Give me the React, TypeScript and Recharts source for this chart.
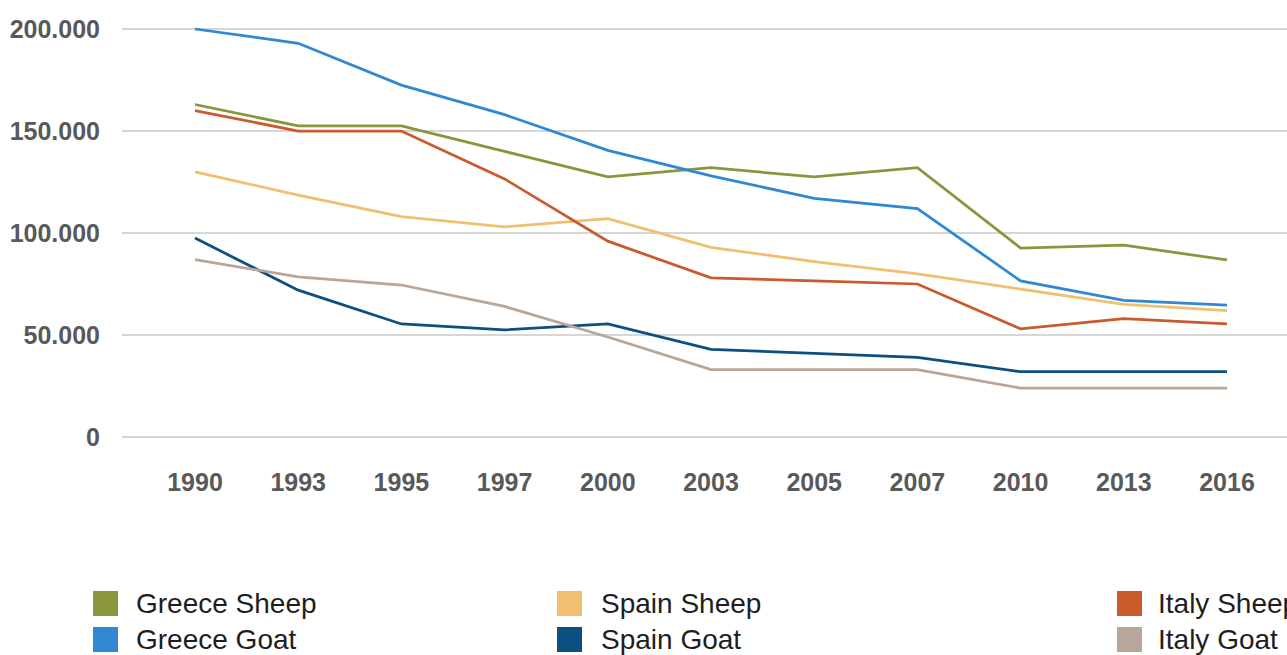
import React from 'react';
import { LineChart, Line, XAxis, YAxis, CartesianGrid, Legend } from 'recharts';

const years = ['1990', '1993', '1995', '1997', '2000', '2003', '2005', '2007', '2010', '2013', '2016'];

const greeceSheep = [163000, 152500, 152500, 140000, 127500, 132000, 127500, 132000, 92600, 94000, 86800];
const greeceGoat = [200000, 193000, 172500, 158000, 140500, 128000, 117000, 112000, 76500, 67000, 64700];
const spainSheep = [130000, 118600, 108000, 103000, 107000, 93000, 86000, 80000, 72500, 65000, 62000];
const spainGoat = [97500, 72000, 55400, 52500, 55400, 43000, 41000, 39000, 32000, 32000, 32000];
const italySheep = [160000, 150000, 150000, 126500, 96000, 78000, 76500, 75000, 53000, 58000, 55400];
const italyGoat = [87000, 78500, 74500, 64000, 49000, 33000, 33000, 33000, 24000, 24000, 24000];

const yTicks = [0, 50000, 100000, 150000, 200000];

const series = [
  { key: 'greeceSheep', name: 'Greece Sheep', color: '#8b963c', values: greeceSheep },
  { key: 'greeceGoat', name: 'Greece Goat', color: '#3088d2', values: greeceGoat },
  { key: 'spainSheep', name: 'Spain Sheep', color: '#f0bf6f', values: spainSheep },
  { key: 'spainGoat', name: 'Spain Goat', color: '#0d4f80', values: spainGoat },
  { key: 'italySheep', name: 'Italy Sheep', color: '#c95a2c', values: italySheep },
  { key: 'italyGoat', name: 'Italy Goat', color: '#b9a699', values: italyGoat },
];

const data = years.map((year, i) => {
  const row: Record<string, any> = { year };
  series.forEach((s) => {
    row[s.key] = s.values[i];
  });
  return row;
});

// legend order: sheep on top row, goats below
const legendOrder = ['greeceSheep', 'spainSheep', 'italySheep', 'greeceGoat', 'spainGoat', 'italyGoat'];
const legendCols = [93, 557, 1117];
const legendGaps = [18, 19, 16];

const fmt = (v: number) => (v === 0 ? '0' : (v / 1000).toFixed(3));

const tickStyle = { fill: '#595959', fontSize: 25, fontWeight: 700, fontFamily: '"Liberation Sans", Arial, sans-serif' };

const LegendBox = () => (
  <div style={{ position: 'relative', width: 1287, height: 70 }}>
    {legendOrder.map((key, i) => {
      const s = series.find((x) => x.key === key)!;
      const col = i % 3;
      const row = Math.floor(i / 3);
      return (
        <div
          key={key}
          style={{
            position: 'absolute',
            left: legendCols[col],
            top: 6 + row * 36,
            display: 'flex',
            alignItems: 'center',
            whiteSpace: 'nowrap',
          }}
        >
          <div style={{ width: 25, height: 25, background: s.color, marginRight: legendGaps[col] }} />
          <span style={{ fontSize: 28, color: '#1e1e1e', fontFamily: '"Liberation Sans", Arial, sans-serif', lineHeight: '25px' }}>
            {s.name}
          </span>
        </div>
      );
    })}
  </div>
);

const App = () => {
  return (
    <div style={{ position: 'absolute', top: 0, left: 0, width: 1287, height: 655, overflow: 'hidden', background: '#fff' }}>
      <LineChart width={1287} height={655} data={data} margin={{ top: 29, right: 0, bottom: 0, left: 0 }}>
        <CartesianGrid vertical={false} stroke="#c8c8c8" strokeWidth={1.5} />
        <XAxis
          dataKey="year"
          axisLine={false}
          tickLine={false}
          tick={tickStyle}
          tickMargin={30}
          height={148}
          padding={{ left: 73, right: 60 }}
          interval={0}
        />
        <YAxis
          domain={[0, 200000]}
          ticks={yTicks}
          tickFormatter={fmt}
          axisLine={false}
          tickLine={false}
          tick={tickStyle}
          tickMargin={16}
          width={122}
        />
        <Legend verticalAlign="bottom" wrapperStyle={{ left: 0, top: 585, width: 1287 }} content={() => <LegendBox />} />
        {series.map((s) => (
          <Line
            key={s.key}
            dataKey={s.key}
            name={s.name}
            type="linear"
            stroke={s.color}
            strokeWidth={2.75}
            dot={false}
            activeDot={false}
            isAnimationActive={false}
          />
        ))}
      </LineChart>
    </div>
  );
};

export default App;
